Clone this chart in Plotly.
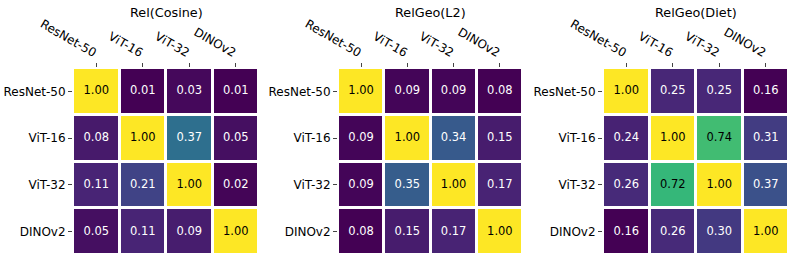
import plotly.graph_objects as go

models = ["ResNet-50", "ViT-16", "ViT-32", "DINOv2"]
titles = ["Rel(Cosine)", "RelGeo(L2)", "RelGeo(Diet)"]

rel_cosine = [
    [1.00, 0.01, 0.03, 0.01],
    [0.08, 1.00, 0.37, 0.05],
    [0.11, 0.21, 1.00, 0.02],
    [0.05, 0.11, 0.09, 1.00],
]
relgeo_l2 = [
    [1.00, 0.09, 0.09, 0.08],
    [0.09, 1.00, 0.34, 0.15],
    [0.09, 0.35, 1.00, 0.17],
    [0.08, 0.15, 0.17, 1.00],
]
relgeo_diet = [
    [1.00, 0.25, 0.25, 0.16],
    [0.24, 1.00, 0.74, 0.31],
    [0.26, 0.72, 1.00, 0.37],
    [0.16, 0.26, 0.30, 1.00],
]
matrices = [rel_cosine, relgeo_l2, relgeo_diet]

W, H = 797, 263
x_px = [(73, 259), (338, 523), (603, 789)]
y_px = (68, 255)

fig = go.Figure()
font_family = "DejaVu Sans"

for i, (mat, title) in enumerate(zip(matrices, titles)):
    n = i + 1
    xa = "x" if n == 1 else f"x{n}"
    ya = "y" if n == 1 else f"y{n}"
    flat = [v for row in mat for v in row]
    zmin, zmax = min(flat), max(flat)
    fig.add_trace(go.Heatmap(
        z=mat, x=models, y=models,
        colorscale="Viridis", zmin=zmin, zmax=zmax,
        showscale=False, xgap=3, ygap=3,
        xaxis=xa, yaxis=ya, hoverinfo="skip",
    ))
    tx, ty, tt, tc = [], [], [], []
    for r, row in enumerate(mat):
        for c, v in enumerate(row):
            tx.append(models[c])
            ty.append(models[r])
            tt.append(f"{v:.2f}")
            norm = (v - zmin) / (zmax - zmin)
            tc.append("black" if norm > 0.5 else "white")
    fig.add_trace(go.Scatter(
        x=tx, y=ty, text=tt, mode="text",
        textfont=dict(family=font_family, size=11.5, color=tc),
        xaxis=xa, yaxis=ya, hoverinfo="skip", showlegend=False,
    ))
    x0, x1 = x_px[i]
    dom_x = [x0 / W, x1 / W]
    dom_y = [1 - y_px[1] / H, 1 - y_px[0] / H]
    fig.layout[f"xaxis{'' if n == 1 else n}"] = dict(
        domain=dom_x, anchor=ya, side="top", tickangle=30,
        ticks="outside", ticklen=4, tickcolor="#444", showgrid=False,
        zeroline=False, showline=False, automargin=False,
        tickfont=dict(family=font_family, size=12, color="black"),
        categoryorder="array", categoryarray=models,
    )
    fig.layout[f"yaxis{'' if n == 1 else n}"] = dict(
        domain=dom_y, anchor=xa, autorange="reversed",
        ticks="outside", ticklen=4, tickcolor="#444", showgrid=False,
        zeroline=False, showline=False, automargin=False,
        tickfont=dict(family=font_family, size=12, color="black"),
        categoryorder="array", categoryarray=models,
    )
    fig.add_annotation(
        text=title, x=(x0 + x1) / 2 / W, y=1 - 12.5 / H,
        xref="paper", yref="paper", showarrow=False,
        xanchor="center", yanchor="middle",
        font=dict(family=font_family, size=12.8, color="black"),
    )

fig.update_layout(
    width=W, height=H, margin=dict(l=0, r=0, t=0, b=0),
    paper_bgcolor="white", plot_bgcolor="white",
)

fig.write_html(
    "out.html",
    config={"displayModeBar": False},
    post_script="document.body.style.margin='0';document.body.style.overflow='hidden';",
)
